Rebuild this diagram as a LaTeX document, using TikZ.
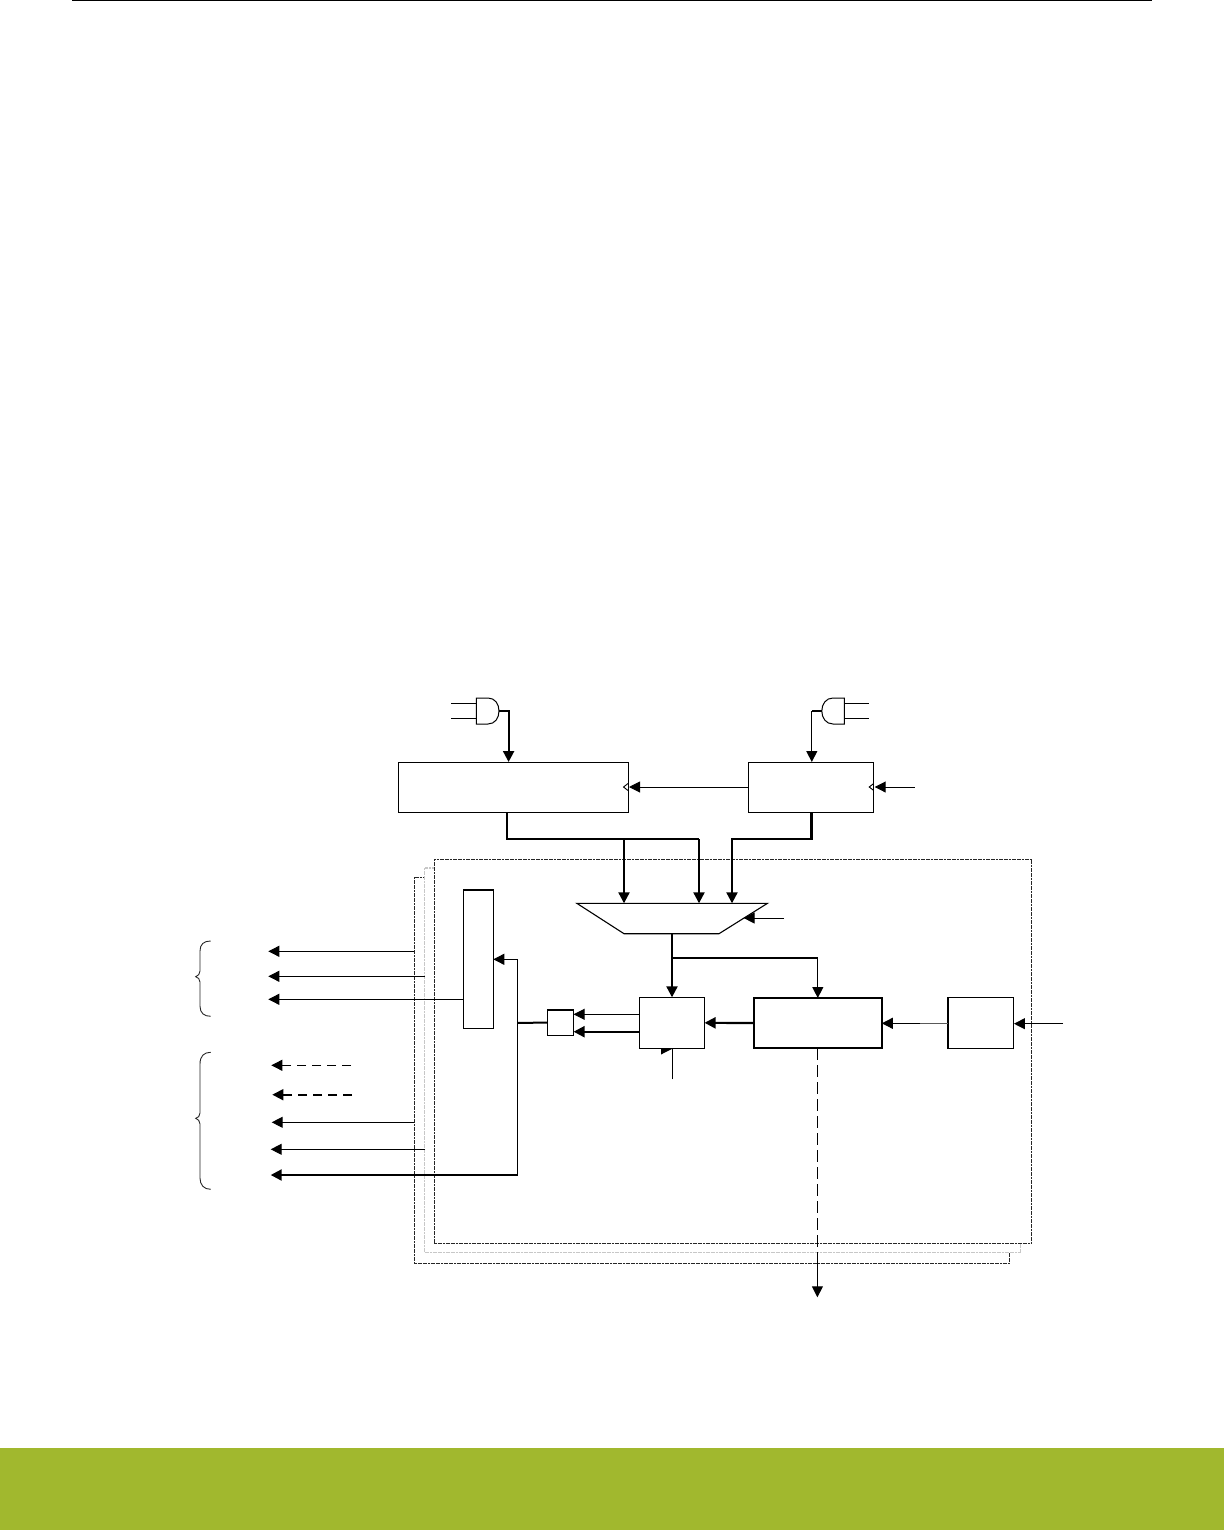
\documentclass[tikz,border=0pt]{standalone}
\usetikzlibrary{arrows.meta,calc}
\definecolor{footgreen}{RGB}{161,184,46}
\tikzset{
  box/.style={draw=black,fill=white,line width=1pt,inner sep=0pt,outer sep=0pt,rectangle},
  boldbox/.style={box,line width=1.9pt},
  conn/.style={line width=1pt,-{Triangle[length=11pt,width=11pt]}},
  bold/.style={conn,line width=2.2pt,-{Triangle[length=11pt,width=11pt]}},
  plain/.style={line width=1pt},
  frontframe/.style={draw=black!85,fill=white,line width=1pt,dash pattern=on 2pt off 0.6pt},
  midframe/.style={draw=black!22,fill=white,line width=1.2pt,dash pattern=on 2pt off 0.6pt},
  brace/.style={draw=black!85,line width=.9pt},
  gate/.style={draw=black,line width=1pt,fill=white},
}
\begin{document}
\begin{tikzpicture}[x=1pt,y=-1pt]
\useasboundingbox (0,0) rectangle (1224,1530);
\fill[footgreen] (0,1448) rectangle (1224,1530);
\draw[line width=1.1pt] (72,0.6) -- (1152,0.6);

% stacked frames
\draw[frontframe] (414.3,877) rectangle (1009,1263.7);
\draw[midframe] (424.6,868) rectangle (1020.7,1252.7);
\draw[frontframe] (434.3,859) rectangle (1031.5,1243);

% blocks
\node[box,minimum width=230pt,minimum height=50pt] (cntA) at (513,787) {};
\node[box,minimum width=125.4pt,minimum height=50pt] (cntB) at (811,787) {};
\node[box,minimum width=30pt,minimum height=138.6pt] (reg) at (478.3,959) {};
\draw[line width=2pt] (reg.north west) -- (reg.north east);
\node[box,minimum width=65.1pt,minimum height=51pt] (cmp) at (672,1022.8) {};
\node[boldbox,minimum width=128pt,minimum height=50pt] (core) at (817.8,1023) {};
\node[box,minimum width=66.3pt,minimum height=51pt] (pre) at (980.8,1022.8) {};
\draw[line width=2pt] (pre.north west) -- (pre.south west);
\node[box,minimum width=26.2pt,minimum height=25.6pt] (sm) at (560.5,1022.5) {};
\draw[line width=2pt] (sm.north west) -- (sm.north east);

% trapezoid mux
\coordinate (mTL) at (576.8,903.3);
\coordinate (mTR) at (767.5,903.3);
\coordinate (mBR) at (719,933.7);
\coordinate (mBL) at (624,933.7);
\draw[line width=1.1pt,fill=white,line join=miter] (mTL) -- (mTR) -- (mBR) -- (mBL) -- cycle;

% AND gates
\coordinate (gLa) at (476.4,698);
\coordinate (gLb) at (476.4,724);
\coordinate (gLo) at (499,711);
\draw[gate] (gLa) -- (488,698) .. controls (495,698) and (499,704) .. (gLo)
  .. controls (499,718) and (495,724) .. (488,724) -- (gLb) -- cycle;
\coordinate (gRa) at (844.3,698);
\coordinate (gRb) at (844.3,724);
\coordinate (gRo) at (821.8,711);
\draw[gate] (gRa) -- (833,698) .. controls (826,698) and (821.8,704) .. (gRo)
  .. controls (821.8,718) and (826,724) .. (833,724) -- (gRb) -- cycle;
\coordinate (inLa) at (451.4,703.3);
\coordinate (inLb) at (451.4,718.3);
\coordinate (inRa) at (868.6,703.3);
\coordinate (inRb) at (868.6,718.3);
\draw[plain] (inLa) -- (inLa -| gLa);
\draw[plain] (inLb) -- (inLb -| gLa);
\draw[plain] (inRa) -- (inRa -| gRa);
\draw[plain] (inRb) -- (inRb -| gRa);
\coordinate (topL) at (508.6,711);
\coordinate (topR) at (811.8,711);
\draw[bold] (gLo) -- (topL) -- (topL |- cntA.north);
\draw[line width=1.9pt] (gRo) -- (topR);
\draw[conn] (topR) -- (topR |- cntB.north);

% clock marks
\draw[line width=.9pt] (cntA.east) ++(0,-3.5) -- ++(-4.5,3.5) -- ++(4.5,3.5);
\draw[line width=.9pt] (cntB.east) ++(0,-3.5) -- ++(-4.5,3.5) -- ++(4.5,3.5);
\coordinate (clkIn) at (914.6,787);
\draw[conn] (cntB.west) -- ($(cntA.east)+(1,0)$);
\draw[conn] (clkIn) -- ($(cntB.east)+(1,0)$);

% buses to mux
\coordinate (busA) at (506.8,839);
\coordinate (busB) at (699,839);
\coordinate (busC) at (624,839);
\coordinate (busD) at (811.4,839);
\coordinate (busE) at (732,839);
\draw[bold,-] (busA |- cntA.south) -- (busA) -- (busB);
\draw[bold] (busB) -- (busB |- mTL);
\draw[bold] (busC) -- (busC |- mTL);
\draw[bold] (busD |- cntB.south) -- (busD) -- (busE) -- (busE |- mTL);
\coordinate (selIn) at (784,918);
\coordinate (selTo) at (743.6,918);
\draw[conn] (selIn) -- (selTo);

% mux output
\coordinate (mOut) at (672,933.7);
\coordinate (mBr) at (672,958);
\draw[bold] (mOut) -- (cmp.north);
\draw[line width=1.9pt] (mBr) -- (core.north |- mBr);
\draw[conn,line width=1.3pt] (core.north |- mBr) -- (core.north);

% core / compare chain
\coordinate (extIn) at (1063,1023.7);
\draw[conn] (extIn) -- (pre.east |- extIn);
\coordinate (preMid) at (920,1023.3);
\draw[line width=1.3pt,black!65] (pre.west |- preMid) -- (preMid);
\draw[conn] (preMid) -- (core.east |- preMid);
\draw[bold] (core.west) -- (cmp.east);
\coordinate (o1) at (639.5,1014.3);
\coordinate (o2) at (639.5,1031.7);
\draw[conn] (o1) -- (o1 -| sm.east);
\draw[bold] (o2) -- (o2 -| sm.east);

% compare clip input
\coordinate (cIn) at (672,1079.3);
\draw[plain] (cIn) -- (cIn |- cmp.south);
\fill (661,1054.5) -- (671.8,1049) -- (661,1049) -- cycle;

% output bus and register feedback
\coordinate (busV) at (517.3,1023);
\coordinate (busT) at (517.3,959.3);
\coordinate (busB2) at (517.3,1175);
\draw[line width=2pt] (sm.west) -- (busV);
\draw[conn] (busV) -- (busT) -- (busT -| reg.east);
\draw[line width=1.3pt] (busV) -- (busB2);

% output arrows
\coordinate (e1) at (268.3,951.3);
\coordinate (e2) at (268.3,976.3);
\coordinate (e3) at (268.3,999.3);
\coordinate (e4) at (271.3,1065.3);
\coordinate (e5) at (272.3,1094.7);
\coordinate (e6) at (271.7,1122.3);
\coordinate (e7) at (270.7,1149.3);
\coordinate (e8) at (270.7,1175);
\coordinate (s4) at (351,1065.3);
\coordinate (s5) at (352,1094.7);
\draw[conn] (414.3,951.3) -- (e1);
\draw[conn] (425,976.3) -- (e2);
\draw[conn] (e3 -| reg.west) -- (e3);
\draw[conn,dash pattern=on 9pt off 6pt] (s4) -- (e4);
\draw[bold,line width=1.6pt,dash pattern=on 9pt off 6pt] (s5) -- (e5);
\draw[conn] (414.3,1122.3) -- (e6);
\draw[conn] (425,1149.3) -- (e7);
\draw[bold,line cap=rect] (busB2) -- (e8);

% interrupt/dashed output
\coordinate (dmaMid) at (817.4,1264);
\coordinate (dmaEnd) at (817.4,1297.3);
\draw[line width=1pt,dash pattern=on 12pt off 5pt] (core.south -| dmaMid) -- (dmaMid);
\draw[conn] (dmaMid) -- (dmaEnd);

% braces
\draw[brace] (210.7,941) .. controls (204,941) and (200,944) .. (200,951) -- (200,971)
  .. controls (200,974) and (198,976) .. (195.7,976.7)
  .. controls (198,977.4) and (200,979) .. (200,982) -- (200,1006)
  .. controls (200,1013) and (204,1016.3) .. (210.7,1016.3);
\draw[brace] (210.7,1052.3) .. controls (204,1052.3) and (200,1056) .. (200,1064) -- (200,1113)
  .. controls (200,1116) and (198,1118) .. (195.7,1118.3)
  .. controls (198,1119) and (200,1121) .. (200,1124) -- (200,1178)
  .. controls (200,1185) and (204,1189.3) .. (210.7,1189.3);
\end{tikzpicture}
\end{document}
